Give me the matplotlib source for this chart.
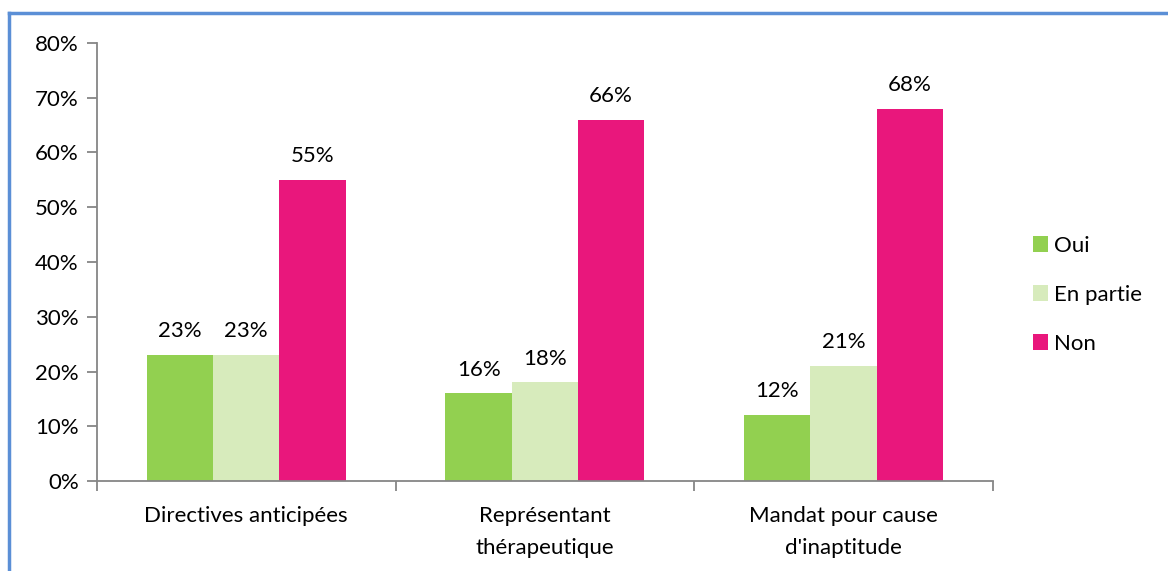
import numpy as np
import matplotlib.pyplot as plt
from matplotlib.lines import Line2D

categories = ["Directives anticipées", "Représentant\nthérapeutique", "Mandat pour cause\nd'inaptitude"]
series = ["Oui", "En partie", "Non"]
oui = [23, 16, 12]
en_partie = [23, 18, 21]
non = [55, 66, 68]
colors = ["#92D050", "#D7EBBC", "#E9177C"]

plt.rcParams['font.family'] = ['Lato', 'DejaVu Sans']
fs = 16

fig = plt.figure(figsize=(11.68, 5.71), dpi=100)
ax = fig.add_axes([0.083, 0.1576, 0.767, 0.7671])

x = np.arange(len(categories))
w = 0.222
for i, (vals, name) in enumerate(zip([oui, en_partie, non], series)):
    pos = x + (i - 1) * w
    ax.bar(pos, vals, width=w, color=colors[i], label=name)
    for p, v in zip(pos, vals):
        ax.annotate(f"{v}%", (p, v), xytext=(0, 10), textcoords="offset points",
                    ha="center", va="bottom", fontsize=fs)

ax.set_xlim(-0.5, 2.5)
ax.set_ylim(0, 80)
ax.set_yticks(range(0, 81, 10))
ax.set_yticklabels([f"{t}%" for t in range(0, 81, 10)], fontsize=fs)
ax.set_xticks([-0.5, 0.5, 1.5, 2.5])
ax.set_xticklabels([])
ax.set_xticks(x, minor=True)
ax.set_xticklabels(categories, minor=True, fontsize=fs, linespacing=1.75)
ax.tick_params(axis="x", which="minor", length=0, pad=18)
ax.tick_params(axis="x", which="major", length=7, color="#868686", width=1.3)
ax.tick_params(axis="y", length=7, color="#868686", width=1.3, pad=6)

for s in ["top", "right"]:
    ax.spines[s].set_visible(False)
for s in ["left", "bottom"]:
    ax.spines[s].set_color("#868686")
    ax.spines[s].set_linewidth(1.3)

ax.legend(loc="center left", bbox_to_anchor=(1.022, 0.425), frameon=False, fontsize=fs,
          handlelength=0.7, handleheight=0.7, handletextpad=0.25, labelspacing=1.3)

# chart frame
fig.add_artist(Line2D([0.0077, 0.0077], [0, 0.978], color="#5B8FD6", lw=2.5))
fig.add_artist(Line2D([0.0077, 1.0], [0.978, 0.978], color="#5B8FD6", lw=2.5))

fig.savefig("out.png", dpi=100)
